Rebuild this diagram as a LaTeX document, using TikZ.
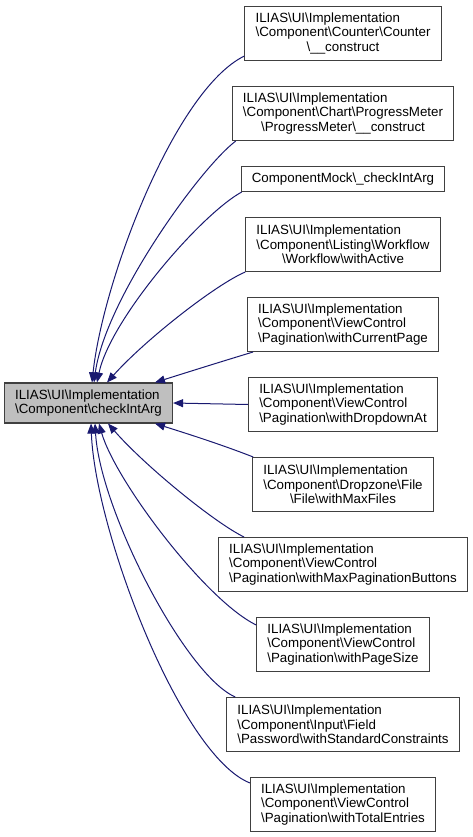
\documentclass[tikz,border=0pt]{standalone}
\usepackage{fontspec}
\setmainfont{Liberation Sans}
\usepackage{tikz}
\usetikzlibrary{positioning, arrows.meta, calc}
\definecolor{edgeblue}{RGB}{25,25,112}
\definecolor{nodegray}{RGB}{191,191,191}
\definecolor{nodeborder}{RGB}{64,64,64}
\newcommand{\lastline}[1]{\hspace*{\fill}#1\hspace*{\fill}}

\begin{document}
\begin{tikzpicture}[x=0.75pt, y=-0.75pt,
font=\fontsize{10pt}{11pt}\selectfont, node distance=18.7pt,
func/.style={rectangle, draw=nodeborder, line width=0.8pt, fill=white,
inner xsep=8pt, inner ysep=0pt, minimum height=40.5pt, align=left},
single/.style={func, minimum height=18.75pt},
edge/.style={draw=edgeblue, line width=0.75pt,
-{Triangle[length=7.5pt, width=6pt]}}
]
\useasboundingbox (0,0) rectangle (472,837);

% Callers
\node[func] (ctr) at (343,33.5)
{ILIAS\textbackslash UI\textbackslash Implementation\\\textbackslash Component\textbackslash Counter\textbackslash Counter\\\lastline{\textbackslash\_\_construct}};
\node[func, below=of ctr] (meter)
{ILIAS\textbackslash UI\textbackslash Implementation\\\textbackslash Component\textbackslash Chart\textbackslash ProgressMeter\\\lastline{\textbackslash ProgressMeter\textbackslash\_\_construct}};
\node[single, below=of meter] (mock)
{ComponentMock\textbackslash\_checkIntArg};
\node[func, below=of mock] (active)
{ILIAS\textbackslash UI\textbackslash Implementation\\\textbackslash Component\textbackslash Listing\textbackslash Workflow\\\lastline{\textbackslash Workflow\textbackslash withActive}};
\node[func, below=of active] (curpage)
{ILIAS\textbackslash UI\textbackslash Implementation\\\textbackslash Component\textbackslash ViewControl\\\textbackslash Pagination\textbackslash withCurrentPage};
\node[func, below=of curpage] (dropdown)
{ILIAS\textbackslash UI\textbackslash Implementation\\\textbackslash Component\textbackslash ViewControl\\\textbackslash Pagination\textbackslash withDropdownAt};
\node[func, below=of dropdown] (maxfiles)
{ILIAS\textbackslash UI\textbackslash Implementation\\\textbackslash Component\textbackslash Dropzone\textbackslash File\\\lastline{\textbackslash File\textbackslash withMaxFiles}};
\node[func, below=of maxfiles] (maxbtn)
{ILIAS\textbackslash UI\textbackslash Implementation\\\textbackslash Component\textbackslash ViewControl\\\textbackslash Pagination\textbackslash withMaxPaginationButtons};
\node[func, below=of maxbtn] (pagesize)
{ILIAS\textbackslash UI\textbackslash Implementation\\\textbackslash Component\textbackslash ViewControl\\\textbackslash Pagination\textbackslash withPageSize};
\node[func, below=of pagesize] (password)
{ILIAS\textbackslash UI\textbackslash Implementation\\\textbackslash Component\textbackslash Input\textbackslash Field\\\textbackslash Password\textbackslash withStandardConstraints};
\node[func, below=of password] (total)
{ILIAS\textbackslash UI\textbackslash Implementation\\\textbackslash Component\textbackslash ViewControl\\\textbackslash Pagination\textbackslash withTotalEntries};

% Checked function
\node[func, fill=nodegray, minimum height=30pt, minimum width=125.25pt] (check) at (88.5,403)
{ILIAS\textbackslash UI\textbackslash Implementation\\\textbackslash Component\textbackslash checkIntArg};

% Arrows
\draw[edge] ($(ctr.south west)+(0,-5)$) .. controls (175,90) and (103,280) .. ($(check.north)+(3.5,0)$);
\draw[edge] ($(meter.south west)+(4,0)$) .. controls (200,168) and (105,300) .. ($(check.north)+(5.5,0)$);
\draw[edge] ($(mock.south west)+(1,0)$) .. controls (200,215) and (110,320) .. ($(check.north)+(8.5,0)$);
\draw[edge] (active.south west) .. controls (215,285) and (145,340) .. ($(check.north)+(18.5,0)$);
\draw[edge] ($(curpage.south west)+(6,0)$) .. controls (220,362) and (185,373) .. ($(check.north)+(66.5,0)$);
\draw[edge] (dropdown.west) -- (check.east);
\draw[edge] ($(maxfiles.north west)+(1,0)$) .. controls (220,444) and (185,433) .. ($(check.south)+(66.5,0)$);
\draw[edge] ($(maxbtn.north west)+(26,0)$) .. controls (215,523) and (145,466) .. ($(check.south)+(19.5,0)$);
\draw[edge] ($(pagesize.north west)+(0,8)$) .. controls (205,600) and (115,480) .. ($(check.south)+(10.5,0)$);
\draw[edge] ($(password.north west)+(9,0)$) .. controls (185,675) and (100,510) .. ($(check.south)+(6.5,0)$);
\draw[edge] ($(total.north west)+(0,6)$) .. controls (180,755) and (95,530) .. ($(check.south)+(2.5,0)$);

\end{tikzpicture}
\end{document}
